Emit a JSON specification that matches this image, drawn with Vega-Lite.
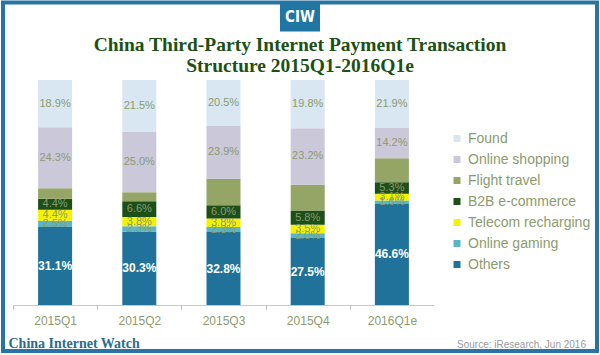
{
  "$schema": "https://vega.github.io/schema/vega-lite/v6.json",
  "autosize": "none",
  "width": 594,
  "height": 348.5,
  "padding": {"left": 3, "top": 2.5, "right": 3, "bottom": 4},
  "background": "white",
  "view": {"stroke": "#2874a6", "strokeWidth": 4, "fill": "white"},
  "title": {
    "text": ["China Third-Party Internet Payment Transaction", "Structure 2015Q1-2016Q1e"],
    "anchor": "middle",
    "frame": "group",
    "offset": -74,
    "font": "Liberation Serif",
    "fontSize": 19.5,
    "fontWeight": "bold",
    "color": "#1d5014",
    "lineHeight": 21
  },
  "config": {
    "axisY": {
      "orient": "right",
      "offset": -317.5,
      "domain": false,
      "grid": false,
      "tickSize": 40,
      "tickWidth": 29,
      "tickColor": "#1f76a3",
      "tickCap": "butt",
      "labelExpr": "'CIW'",
      "labelColor": "white",
      "labelFont": "Liberation Sans Narrow, DejaVu Sans Condensed, Liberation Sans",
      "labelFontSize": 15,
      "labelFontWeight": "bold",
      "labelAlign": "center",
      "labelBaseline": "middle",
      "labelPadding": -20,
      "labelBound": false,
      "labelOverlap": false,
      "labelFlush": false,
      "titleAngle": 0,
      "titleX": 306,
      "titleY": 344.5,
      "titleAlign": "right",
      "titleBaseline": "alphabetic",
      "titleFont": "Liberation Sans",
      "titleFontSize": 10,
      "titleFontWeight": "normal",
      "titleColor": "#9a9a9a"
    }
  },
  "data": {
    "values": [
      {"quarter": "2015Q1", "category": "Others", "value": 0.311},
      {"quarter": "2015Q1", "category": "Online gaming", "value": 0.025},
      {"quarter": "2015Q1", "category": "Telecom recharging", "value": 0.044},
      {"quarter": "2015Q1", "category": "B2B e-commerce", "value": 0.044},
      {"quarter": "2015Q1", "category": "Flight travel", "value": 0.042},
      {"quarter": "2015Q1", "category": "Online shopping", "value": 0.243},
      {"quarter": "2015Q1", "category": "Found", "value": 0.189},
      {"quarter": "2015Q2", "category": "Others", "value": 0.303},
      {"quarter": "2015Q2", "category": "Online gaming", "value": 0.023},
      {"quarter": "2015Q2", "category": "Telecom recharging", "value": 0.038},
      {"quarter": "2015Q2", "category": "B2B e-commerce", "value": 0.066},
      {"quarter": "2015Q2", "category": "Flight travel", "value": 0.037},
      {"quarter": "2015Q2", "category": "Online shopping", "value": 0.250},
      {"quarter": "2015Q2", "category": "Found", "value": 0.215},
      {"quarter": "2015Q3", "category": "Others", "value": 0.328},
      {"quarter": "2015Q3", "category": "Online gaming", "value": 0.023},
      {"quarter": "2015Q3", "category": "Telecom recharging", "value": 0.038},
      {"quarter": "2015Q3", "category": "B2B e-commerce", "value": 0.060},
      {"quarter": "2015Q3", "category": "Flight travel", "value": 0.119},
      {"quarter": "2015Q3", "category": "Online shopping", "value": 0.239},
      {"quarter": "2015Q3", "category": "Found", "value": 0.205},
      {"quarter": "2015Q4", "category": "Others", "value": 0.275},
      {"quarter": "2015Q4", "category": "Online gaming", "value": 0.020},
      {"quarter": "2015Q4", "category": "Telecom recharging", "value": 0.035},
      {"quarter": "2015Q4", "category": "B2B e-commerce", "value": 0.058},
      {"quarter": "2015Q4", "category": "Flight travel", "value": 0.106},
      {"quarter": "2015Q4", "category": "Online shopping", "value": 0.232},
      {"quarter": "2015Q4", "category": "Found", "value": 0.198},
      {"quarter": "2016Q1e", "category": "Others", "value": 0.466},
      {"quarter": "2016Q1e", "category": "Online gaming", "value": 0.016},
      {"quarter": "2016Q1e", "category": "Telecom recharging", "value": 0.031},
      {"quarter": "2016Q1e", "category": "B2B e-commerce", "value": 0.053},
      {"quarter": "2016Q1e", "category": "Flight travel", "value": 0.110},
      {"quarter": "2016Q1e", "category": "Online shopping", "value": 0.142},
      {"quarter": "2016Q1e", "category": "Found", "value": 0.219}
    ]
  },
  "transform": [
    {"window": [{"op": "row_number", "as": "k"}], "groupby": ["quarter"]}
  ],
  "encoding": {
    "x": {
      "field": "quarter",
      "type": "nominal",
      "sort": null,
      "scale": {"range": [10, 431], "paddingInner": 0.596, "paddingOuter": 0.298},
      "axis": {
        "title": "China Internet Watch",
        "titleX": 5,
        "titleY": 42,
        "titleAlign": "left",
        "titleBaseline": "alphabetic",
        "titleFont": "Liberation Serif",
        "titleFontSize": 14,
        "titleFontWeight": "bold",
        "titleColor": "#2a6e8c",
        "offset": -46,
        "labelAngle": 0,
        "labelColor": "#8c9b6e",
        "labelFont": "Liberation Sans",
        "labelFontSize": 12,
        "labelPadding": 6,
        "tickOffset": -42.1,
        "labelOffset": 42.1,
        "tickSize": 4,
        "tickColor": "#b5b5b5",
        "domainColor": "#c8c8c8",
        "grid": false
      }
    },
    "order": {"field": "k", "type": "quantitative"}
  },
  "layer": [
    {
      "mark": {"type": "bar"},
      "encoding": {
        "y": {
          "field": "value",
          "type": "quantitative",
          "stack": "normalize",
          "scale": {"domain": [0, 1.3511], "range": [302.5, -1.5], "nice": false},
          "title": "Source: iResearch, Jun 2016",
          "axis": {"values": [1.2844]}
        },
        "color": {
          "field": "category",
          "type": "nominal",
          "scale": {
            "domain": ["Found", "Online shopping", "Flight travel", "B2B e-commerce", "Telecom recharging", "Online gaming", "Others"],
            "range": ["#d8e7f1", "#cbc8da", "#94a565", "#1d4f18", "#f3f300", "#5bb5c9", "#20729a"]
          },
          "legend": {
            "orient": "none",
            "legendX": 447,
            "legendY": 129,
            "title": null,
            "padding": 0,
            "symbolType": "square",
            "symbolSize": 49,
            "symbolStrokeWidth": 0,
            "labelFont": "Liberation Sans",
            "labelFontSize": 14,
            "labelColor": "#8c9b6e",
            "labelOffset": 4,
            "rowPadding": 7
          }
        }
      }
    },
    {
      "mark": {"type": "text", "font": "Liberation Sans", "fontSize": 11, "color": "#8c9b6e"},
      "encoding": {
        "y": {"field": "value", "type": "quantitative", "stack": "normalize", "bandPosition": 0.5, "title": "Source: iResearch, Jun 2016", "axis": {"values": [1.2844]}},
        "detail": {"field": "category", "type": "nominal"},
        "text": {"field": "value", "type": "quantitative", "format": ".1%"},
        "opacity": {
          "condition": {"test": "datum.category === 'Flight travel' || datum.category === 'Others'", "value": 0},
          "value": 1
        }
      }
    },
    {
      "mark": {"type": "text", "font": "Liberation Sans", "fontSize": 12, "fontWeight": "bold", "color": "white"},
      "encoding": {
        "y": {"field": "value", "type": "quantitative", "stack": "normalize", "bandPosition": 0.5, "title": "Source: iResearch, Jun 2016", "axis": {"values": [1.2844]}},
        "detail": {"field": "category", "type": "nominal"},
        "text": {"field": "value", "type": "quantitative", "format": ".1%"},
        "opacity": {
          "condition": {"test": "datum.category === 'Others'", "value": 1},
          "value": 0
        }
      }
    }
  ]
}
